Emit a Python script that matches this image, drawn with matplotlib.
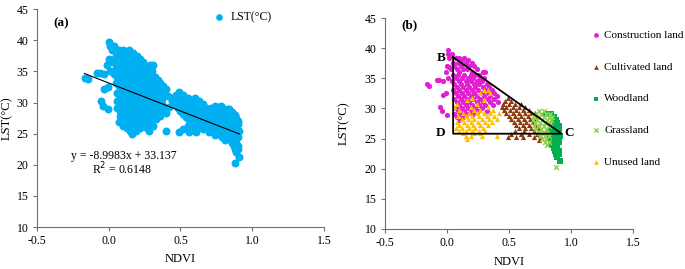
import numpy as np
import matplotlib
matplotlib.use("Agg")
import matplotlib.pyplot as plt

plt.rcParams['font.family'] = ['Liberation Serif', 'DejaVu Serif']
plt.rcParams['font.size'] = 8.5

# points, per land class: (NDVI, LST)
construction = [
    (0.005, 39.7), (0.01, 39.0), (0.04, 39.0),
    (0.02, 38.4), (0.07, 38.4), (0.10, 38.4), (0.14, 38.4), (0.12, 38.0), (0.17, 38.0),
    (0.05, 37.5), (0.09, 37.5), (0.15, 37.5), (0.20, 37.5),
    (0.00, 37.0), (0.06, 37.0), (0.11, 37.0), (0.18, 37.0), (0.22, 37.0),
    (0.03, 36.5), (0.08, 36.5), (0.13, 36.5), (0.16, 36.5), (0.24, 36.5),
    (0.10, 36.1), (0.20, 36.1), (0.29, 36.1), (0.31, 36.1),
    (0.05, 35.6), (0.09, 35.6), (0.14, 35.6), (0.19, 35.6), (0.23, 35.6), (0.26, 35.6),
    (0.01, 35.1), (0.07, 35.1), (0.12, 35.1), (0.17, 35.1), (0.21, 35.1), (0.27, 35.1), (0.30, 35.1),
    (-0.03, 34.6), (0.04, 34.6), (0.10, 34.6), (0.15, 34.6), (0.19, 34.6), (0.24, 34.6), (0.28, 34.6),
    (0.06, 34.1), (0.11, 34.1), (0.16, 34.1), (0.22, 34.1), (0.26, 34.1), (0.32, 34.1),
    (0.08, 33.6), (0.13, 33.6), (0.18, 33.6), (0.23, 33.6), (0.29, 33.6), (0.34, 33.6),
    (0.05, 33.1), (0.10, 33.1), (0.15, 33.1), (0.20, 33.1), (0.25, 33.1), (0.31, 33.1), (0.36, 33.1),
    (0.07, 32.6), (0.12, 32.6), (0.17, 32.6), (0.22, 32.6), (0.28, 32.6), (0.33, 32.6), (0.38, 32.6),
    (0.09, 32.1), (0.14, 32.1), (0.19, 32.1), (0.24, 32.1), (0.30, 32.1), (0.35, 32.1), (0.40, 32.1),
    (0.06, 31.6), (0.11, 31.6), (0.16, 31.6), (0.21, 31.6), (0.27, 31.6), (0.33, 31.6), (0.38, 31.6),
    (0.08, 31.1), (0.13, 31.1), (0.18, 31.1), (0.24, 31.1), (0.29, 31.1), (0.35, 31.1), (0.41, 31.1),
    (0.10, 30.6), (0.15, 30.6), (0.20, 30.6), (0.26, 30.6), (0.31, 30.6), (0.37, 30.6),
    (0.07, 30.1), (0.12, 30.1), (0.17, 30.1), (0.23, 30.1), (0.28, 30.1),
    (0.09, 29.6), (0.14, 29.6), (0.19, 29.6), (0.25, 29.6), (0.32, 29.6),
    (0.06, 29.1), (0.11, 29.1), (0.16, 29.1), (0.21, 29.1), (0.08, 28.6), (0.13, 28.6), (0.10, 28.1),
    (-0.165, 34.0), (-0.142, 33.7), (-0.083, 34.7), (-0.062, 34.7), (-0.03, 32.2), (-0.008, 32.5),
    (-0.056, 30.2), (-0.04, 29.5), (-0.003, 28.9), (0.02, 36.8), (-0.01, 36.0),
]
cultivated = [
    (0.49, 31.7), (0.47, 31.2), (0.52, 31.2),
    (0.45, 30.7), (0.50, 30.7), (0.55, 30.7), (0.60, 30.7),
    (0.44, 30.2), (0.48, 30.2), (0.53, 30.2), (0.58, 30.2), (0.63, 30.2),
    (0.46, 29.7), (0.51, 29.7), (0.56, 29.7), (0.61, 29.7), (0.66, 29.7),
    (0.48, 29.2), (0.53, 29.2), (0.58, 29.2), (0.63, 29.2), (0.68, 29.2), (0.71, 29.2),
    (0.50, 28.7), (0.55, 28.7), (0.60, 28.7), (0.65, 28.7), (0.70, 28.7),
    (0.52, 28.2), (0.57, 28.2), (0.62, 28.2), (0.67, 28.2), (0.72, 28.2),
    (0.54, 27.7), (0.59, 27.7), (0.64, 27.7), (0.69, 27.7),
    (0.56, 27.2), (0.61, 27.2), (0.66, 27.2), (0.71, 27.2),
    (0.58, 26.7), (0.63, 26.7), (0.68, 26.7), (0.74, 26.7),
    (0.55, 26.2), (0.62, 26.2), (0.70, 26.2),
    (0.52, 25.7), (0.60, 25.7), (0.66, 25.7), (0.73, 25.7),
    (0.49, 25.2), (0.56, 25.2), (0.61, 25.2), (0.70, 25.2), (0.76, 25.2), (0.74, 24.8),
]
woodland = [
    (0.80, 29.0), (0.84, 29.0), (0.86, 28.5), (0.87, 28.0), (0.88, 28.0),
    (0.86, 27.5), (0.89, 27.5), (0.85, 27.0), (0.88, 27.0), (0.90, 27.0),
    (0.84, 26.5), (0.87, 26.5), (0.90, 26.5), (0.83, 26.0), (0.86, 26.0), (0.89, 26.0),
    (0.85, 25.5), (0.88, 25.5), (0.91, 25.5), (0.82, 25.0), (0.86, 25.0), (0.89, 25.0),
    (0.84, 24.5), (0.87, 24.5), (0.90, 24.5), (0.85, 24.0), (0.88, 24.0),
    (0.86, 23.5), (0.89, 23.5), (0.87, 23.0), (0.90, 23.0), (0.88, 22.5), (0.90, 22.5),
    (0.89, 22.0), (0.91, 21.2),
]
grassland = [
    (0.74, 29.5), (0.78, 29.5), (0.72, 29.0), (0.76, 29.0), (0.80, 29.0), (0.83, 29.0),
    (0.70, 28.5), (0.74, 28.5), (0.78, 28.5), (0.82, 28.5), (0.85, 28.5),
    (0.69, 28.0), (0.73, 28.0), (0.77, 28.0), (0.81, 28.0), (0.84, 28.0),
    (0.71, 27.5), (0.75, 27.5), (0.79, 27.5), (0.83, 27.5),
    (0.70, 27.0), (0.74, 27.0), (0.78, 27.0), (0.82, 27.0),
    (0.72, 26.5), (0.76, 26.5), (0.80, 26.5), (0.74, 26.0), (0.78, 26.0), (0.81, 26.0),
    (0.75, 25.5), (0.79, 25.5), (0.82, 25.5), (0.77, 25.0), (0.80, 25.0),
    (0.79, 24.5), (0.82, 24.5), (0.81, 24.0), (0.88, 20.3),
]
unused = [
    (0.30, 33.0), (0.33, 33.0), (0.27, 32.5), (0.35, 32.5), (0.20, 31.8),
    (0.16, 31.4), (0.30, 31.4), (0.08, 30.8), (0.24, 30.8), (0.06, 30.3), (0.19, 30.3), (0.33, 30.3),
    (0.10, 29.8), (0.22, 29.8), (0.27, 29.8), (0.37, 29.8),
    (0.13, 29.3), (0.18, 29.3), (0.24, 29.3), (0.30, 29.3), (0.35, 29.3), (0.42, 29.3),
    (0.09, 28.8), (0.15, 28.8), (0.20, 28.8), (0.26, 28.8), (0.32, 28.8), (0.38, 28.8),
    (0.12, 28.3), (0.17, 28.3), (0.22, 28.3), (0.28, 28.3), (0.34, 28.3), (0.40, 28.3),
    (0.08, 27.8), (0.14, 27.8), (0.19, 27.8), (0.25, 27.8), (0.31, 27.8), (0.36, 27.8),
    (0.10, 27.3), (0.16, 27.3), (0.21, 27.3), (0.27, 27.3), (0.33, 27.3),
    (0.07, 26.8), (0.12, 26.8), (0.18, 26.8), (0.23, 26.8), (0.29, 26.8),
    (0.10, 26.3), (0.15, 26.3), (0.20, 26.3), (0.26, 26.3), (0.31, 26.3),
    (0.13, 25.9), (0.22, 25.9), (0.27, 25.9),
    (0.15, 25.4), (0.19, 25.4), (0.28, 25.4), (0.40, 25.4), (0.16, 25.0),
]

class_names = ['Construction land', 'Cultivated land', 'Woodland', 'Grassland', 'Unused land']
class_colors = ['#e21fd2', '#8b3a0e', '#00b050', '#92d050', '#ffc000']
class_markers = ['o', '^', 's', 'x', '^']

# linear fit shown in (a)
slope, intercept = -8.9983, 33.137
fit_x = [-0.17, 0.91]

# triangle B-C-D in (b)
tri_x = [0.05, 0.925, 0.05, 0.05]
tri_y = [38.5, 25.8, 25.8, 38.5]

xticks = [-0.5, 0.0, 0.5, 1.0, 1.5]
yticks = [10, 15, 20, 25, 30, 35, 40, 45]

classes = [construction, cultivated, woodland, grassland, unused]

fig = plt.figure(figsize=(6.85, 2.69), dpi=100)
ax1 = fig.add_axes([0.054, 0.156, 0.419, 0.810])
ax2 = fig.add_axes([0.562, 0.149, 0.362, 0.784])

def style(ax, xpad, ypad):
    ax.set_xlim(-0.5, 1.5)
    ax.set_ylim(10, 45)
    ax.set_xticks(xticks)
    ax.set_xticklabels(['%.1f' % t for t in xticks])
    ax.set_yticks(yticks)
    for s in ['top', 'right']:
        ax.spines[s].set_visible(False)
    for s in ['left', 'bottom']:
        ax.spines[s].set_color('#707070')
        ax.spines[s].set_linewidth(0.8)
    ax.tick_params(direction='out', length=3, width=0.8, color='#707070', pad=3, labelsize=8.5)
    ax.set_xlabel('NDVI', labelpad=xpad, fontsize=9)
    ax.set_ylabel('LST(°C)', labelpad=ypad, fontsize=9)

# (a) all points together
all_pts = np.array([p for c in classes for p in c])
ax1.scatter(all_pts[:, 0], all_pts[:, 1], s=22, color='#00b0f0', label='LST(°C)', zorder=2)
fx = np.array(fit_x)
ax1.plot(fx, slope * fx + intercept, color='black', lw=0.8, zorder=3)
ax1.text(0.105, 21.4, 'y = -8.9983x + 33.137', ha='center', va='center')
ax1.text(0.09, 19.3, 'R$^2$ = 0.6148', ha='center', va='center')
ax1.text(-0.33, 42.7, '(a)', fontweight='bold', fontsize=9.5, ha='center', va='center')
style(ax1, 4, 3)
ax1.legend(loc='center left', bbox_to_anchor=(0.601, 0.963), frameon=False, handlelength=0.8,
           handletextpad=0.6, markerscale=0.8, borderaxespad=0.0)

# (b) by land class
for pts, name, col, mk in zip(classes, class_names, class_colors, class_markers):
    a = np.array(pts)
    if mk == 'x':
        ax2.scatter(a[:, 0], a[:, 1], s=12, color=col, marker=mk, linewidths=1.0, label=name, zorder=2)
    else:
        ax2.scatter(a[:, 0], a[:, 1], s=14, color=col, marker=mk, linewidths=0, label=name, zorder=2)
ax2.plot(tri_x, tri_y, color='black', lw=1.3, zorder=4)
ax2.text(-0.01, 38.3, 'B', fontweight='bold', fontsize=9.5, ha='right', va='center')
ax2.text(-0.01, 25.9, 'D', fontweight='bold', fontsize=9.5, ha='right', va='center')
ax2.text(0.95, 25.9, 'C', fontweight='bold', fontsize=9.5, ha='left', va='center')
ax2.text(-0.30, 43.8, '(b)', fontweight='bold', fontsize=9.5, ha='center', va='center')
style(ax2, 5, 11)
ax2.legend(loc='center left', bbox_to_anchor=(0.817, 0.618), frameon=False, handlelength=0.8,
           handletextpad=0.3, labelspacing=1.98, markerscale=0.9, borderaxespad=0.0, fontsize=8)

fig.savefig('out.png', dpi=100)
